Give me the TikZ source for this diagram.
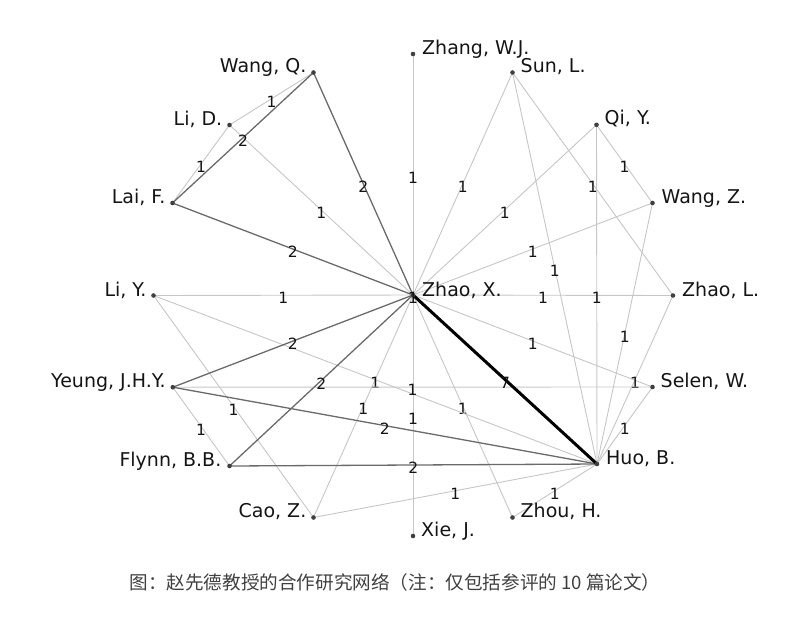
\documentclass[tikz,border=0pt]{standalone}
\usepackage{fontspec}
\setmainfont{DejaVu Sans}
\newfontfamily\cjk{Noto Sans CJK SC}
\pgfdeclarelayer{background}
\pgfsetlayers{background,main}
\definecolor{lightedge}{HTML}{C6C6C6}
\definecolor{darkedge}{HTML}{6A6A6A}
\definecolor{txt}{HTML}{141414}
\tikzset{
  dot/.style={circle, fill=black!75, inner sep=0pt, minimum size=4.6pt},
  namelbl/.style={inner sep=0pt, text=txt, font=\fontsize{19}{22}\selectfont},
  wl/.style={inner sep=0pt, text=txt, font=\fontsize{15.5}{18}\selectfont, yshift=-3pt},
  wone/.style={draw=lightedge, line width=0.9pt},
  wtwo/.style={draw=darkedge, line width=1.3pt},
  wseven/.style={draw=black, line width=3pt},
}
\begin{document}
\begin{tikzpicture}[x=1pt,y=-1pt]
\useasboundingbox (0,0) rectangle (800,627);
% nodes
\node[dot] (zx) at (413,295) {};
\node[dot] (zhang) at (413,54) {};
\node[dot] (sun) at (512.5,72.5) {};
\node[dot] (qi) at (596.5,124.8) {};
\node[dot] (wangz) at (652.5,203) {};
\node[dot] (zhaol) at (673,295.5) {};
\node[dot] (selen) at (652.5,387) {};
\node[dot] (huo) at (597,464) {};
\node[dot] (zhou) at (512.5,517.5) {};
\node[dot] (xie) at (413,536) {};
\node[dot] (cao) at (313.5,517.5) {};
\node[dot] (flynn) at (229.5,466) {};
\node[dot] (yeung) at (172.8,387.2) {};
\node[dot] (liy) at (153.5,295.5) {};
\node[dot] (laif) at (172.5,203) {};
\node[dot] (lid) at (229.5,125) {};
\node[dot] (wangq) at (313.5,72.5) {};
% name labels
\node[namelbl, anchor=base west] (zxl) at ([xshift=9pt,yshift=-1pt]zx.center) {Zhao, X.};
\node[namelbl, anchor=base west] (zhangl) at ([xshift=9pt]zhang.center) {Zhang, W.J.};
\node[namelbl, anchor=base west] (sunl) at ([xshift=8pt]sun.center) {Sun, L.};
\node[namelbl, anchor=base west] (qil) at ([xshift=8pt]qi.center) {Qi, Y.};
\node[namelbl, anchor=base west] (wangzl) at ([xshift=9pt]wangz.center) {Wang, Z.};
\node[namelbl, anchor=base west] (zhaoll) at ([xshift=9pt,yshift=-1pt]zhaol.center) {Zhao, L.};
\node[namelbl, anchor=base west] (selenl) at ([xshift=8pt]selen.center) {Selen, W.};
\node[namelbl, anchor=base west] (huol) at ([xshift=9pt]huo.center) {Huo, B.};
\node[namelbl, anchor=base west] (zhoul) at ([xshift=8pt]zhou.center) {Zhou, H.};
\node[namelbl, anchor=base west] (xiel) at ([xshift=8pt]xie.center) {Xie, J.};
\node[namelbl, anchor=base east] (caol) at ([xshift=-7pt]cao.center) {Cao, Z.};
\node[namelbl, anchor=base east] (flynnl) at ([xshift=-8pt]flynn.center) {Flynn, B.B.};
\node[namelbl, anchor=base east] (yeungl) at ([xshift=-7pt]yeung.center) {Yeung, J.H.Y.};
\node[namelbl, anchor=base east] (liyl) at ([xshift=-7pt,yshift=-1pt]liy.center) {Li, Y.};
\node[namelbl, anchor=base east] (laifl) at ([xshift=-7pt]laif.center) {Lai, F.};
\node[namelbl, anchor=base east] (lidl) at ([xshift=-7pt]lid.center) {Li, D.};
\node[namelbl, anchor=base east] (wangql) at ([xshift=-7pt]wangq.center) {Wang, Q.};
\node[wl] (zxw) at (zx.center) {1};
% edges
\begin{pgfonlayer}{background}
\foreach \a/\b in {zhang/zx, sun/zx, qi/zx, wangz/zx, zhaol/zx, selen/zx, zhou/zx, xie/zx, cao/zx, liy/zx, lid/zx,
  sun/zhaol, qi/wangz, sun/huo, qi/huo, wangz/huo, zhaol/huo, selen/huo, zhou/huo, cao/huo, liy/huo,
  yeung/selen, yeung/flynn, liy/cao, wangq/lid, lid/laif}
  \draw[wone] (\a.center) -- node[wl]{1} (\b.center);
\foreach \a/\b in {wangq/laif, wangq/zx, laif/zx, yeung/zx, flynn/zx, yeung/huo, flynn/huo}
  \draw[wtwo] (\a.center) -- node[wl]{2} (\b.center);
\draw[wseven] (zx.center) -- node[wl]{7} (huo.center);
\end{pgfonlayer}
% caption
\node[inner sep=0pt, text=black!75, font=\cjk\fontsize{18.6}{20}\selectfont] (cap) at (395,582) {图：赵先德教授的合作研究网络（注：仅包括参评的 10 篇论文）};
\end{tikzpicture}
\end{document}
